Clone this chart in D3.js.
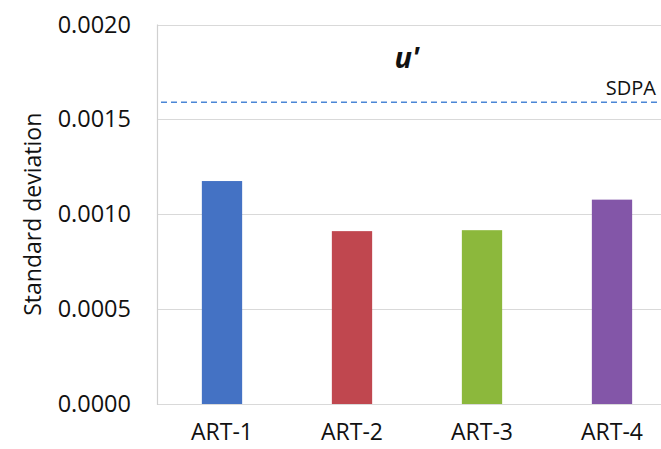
<!DOCTYPE html>
<html><head><meta charset="utf-8">
<script src="https://cdn.jsdelivr.net/npm/d3@7"></script>
<style>
body{margin:0;background:#fff;}
svg{display:block;font-family:"Open Sans",sans-serif;}
</style></head>
<body><svg id="c" width="661" height="449"></svg>
<script>
const categories = ["ART-1","ART-2","ART-3","ART-4"];
const values = [0.001175, 0.000911, 0.000916, 0.001077];
const barColors = ["#4472C4","#C0474F","#8CB83C","#8356A8"];
const yTicks = [0, 0.0005, 0.0010, 0.0015, 0.0020];
const sdpaValue = 0.00159;
const sdpaLabel = "SDPA";
const titleText = "u'";
const yTitle = "Standard deviation";

const svg = d3.select("#c");
const pLeft = 157, pRight = 677, pTop = 24.5, pBottom = 404;
const x = d3.scaleBand().domain(categories).range([pLeft, pRight]).paddingInner(0.69).paddingOuter(0.345);
const y = d3.scaleLinear().domain([0, 0.002]).range([pBottom, pTop]);

// gridlines
svg.append("g").selectAll("line").data(yTicks).join("line")
  .attr("x1", pLeft).attr("x2", 661)
  .attr("y1", d => Math.round(y(d)) + 0.5).attr("y2", d => Math.round(y(d)) + 0.5)
  .attr("stroke", "#d9d9d9").attr("stroke-width", 1.2);
// left border
svg.append("line").attr("x1", pLeft + 0.5).attr("x2", pLeft + 0.5)
  .attr("y1", y(0.002)).attr("y2", y(0) + 1)
  .attr("stroke", "#d0d0d0").attr("stroke-width", 1.2);

// bars
svg.append("g").selectAll("rect").data(categories).join("rect")
  .attr("x", d => x(d)).attr("width", x.bandwidth())
  .attr("y", (d, i) => y(values[i])).attr("height", (d, i) => y(0) - y(values[i]))
  .attr("fill", (d, i) => barColors[i]);

// SDPA line
svg.append("line").attr("x1", pLeft + 4).attr("x2", 661)
  .attr("y1", y(sdpaValue)).attr("y2", y(sdpaValue))
  .attr("stroke", "#4A86D6").attr("stroke-width", 1.6).attr("stroke-dasharray", "6,4");
svg.append("text").attr("x", 656).attr("y", y(sdpaValue) - 7)
  .attr("text-anchor", "end").attr("font-size", 20).attr("fill", "#111").text(sdpaLabel);

// title
svg.append("text").attr("x", 407).attr("y", 68).attr("text-anchor", "middle")
  .attr("font-size", 29).attr("font-weight", "bold").attr("font-style", "italic")
  .attr("fill", "#111").text(titleText);

// y axis
const yAxis = d3.axisLeft(y).tickValues(yTicks).tickFormat(d3.format(".4f")).tickSize(0).tickPadding(0);
const gy = svg.append("g").attr("transform", `translate(131,0)`).call(yAxis);
gy.select(".domain").remove();
gy.selectAll("text").attr("font-size", 23.5).attr("fill", "#111").attr("font-family", "Open Sans, sans-serif");

// x axis
const xAxis = d3.axisBottom(x).tickSize(0).tickPadding(0);
const gx = svg.append("g").attr("transform", `translate(0,424)`).call(xAxis);
gx.select(".domain").remove();
gx.selectAll("text").attr("font-size", 23).attr("fill", "#111").attr("font-family", "Open Sans, sans-serif");

// y title
svg.append("text").attr("transform", `translate(41,${(pTop + pBottom) / 2}) rotate(-90)`)
  .attr("text-anchor", "middle").attr("font-size", 23).attr("fill", "#111").text(yTitle);
</script></body></html>
